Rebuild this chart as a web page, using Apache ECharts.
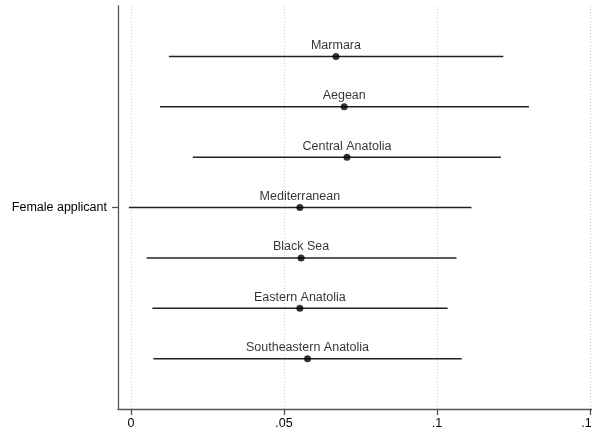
<!DOCTYPE html>
<html>
<head>
<meta charset="utf-8">
<script src="https://cdn.jsdelivr.net/npm/echarts@6/dist/echarts.min.js"></script>
<style>html,body{margin:0;padding:0;background:#fff;}#c{width:592px;height:435px;}</style>
</head>
<body>
<div id="c"></div>
<script>
var regions = ['Marmara','Aegean','Central Anatolia','Mediterranean','Black Sea','Eastern Anatolia','Southeastern Anatolia'];
var estimates = [0.0670,0.0697,0.0706,0.0552,0.0556,0.0552,0.0577];
var lower = [0.0124,0.0095,0.0202,-0.0007,0.0051,0.0070,0.0073];
var upper = [0.1217,0.1301,0.1209,0.1113,0.1064,0.1035,0.1081];
var xTicks = [0, 0.05, 0.1, 0.15];
var yTickValue = [4];
var yTickLabel = 'Female applicant';

var ciData = regions.map(function(r,i){ return [lower[i], upper[i], i+1]; });
var ptData = regions.map(function(r,i){ return {name:r, value:[estimates[i], i+1]}; });

var chart = echarts.init(document.getElementById('c'), null, {renderer:'canvas'});
var fontFam = 'Liberation Sans, Arial, Helvetica, sans-serif';
chart.setOption({
  animation:false,
  backgroundColor:'#fff',
  grid:{left:118, top:6, right:0, bottom:26, containLabel:false, outerBoundsMode:'none'},
  xAxis:{
    type:'value', min:-0.00425, max:0.1507,
    axisLine:{show:true, onZero:false, lineStyle:{color:'#555', width:1.3}},
    axisTick:{show:true, length:6, customValues:xTicks, lineStyle:{color:'#555', width:1.3}},
    axisLabel:{customValues:xTicks, color:'#000', fontSize:12.5, fontFamily:fontFam, margin:8,
      formatter:function(v){ if(v===0) return '0'; return String(v).replace(/^0\./,'.'); }},
    splitLine:{show:true, lineStyle:{color:'#ccc', type:[1,2], width:1}}
  },
  yAxis:{
    type:'value', min:0, max:8, inverse:true,
    axisLine:{show:true, onZero:false, lineStyle:{color:'#555', width:1.3}},
    axisTick:{show:true, length:6, customValues:yTickValue, lineStyle:{color:'#555', width:1.3}},
    axisLabel:{customValues:yTickValue, color:'#000', fontSize:12.5, fontFamily:fontFam, margin:11,
      formatter:function(){ return yTickLabel; }},
    splitLine:{show:false}
  },
  series:[
    {
      type:'custom',
      data:ciData,
      encode:{x:[0,1], y:2},
      renderItem:function(params, api){
        var a = api.coord([api.value(0), api.value(2)]);
        var b = api.coord([api.value(1), api.value(2)]);
        return {type:'line', shape:{x1:a[0], y1:a[1], x2:b[0], y2:b[1]},
          style:{stroke:'#222', lineWidth:1.5}};
      },
      z:2
    },
    {
      type:'scatter',
      data:ptData,
      symbol:'circle', symbolSize:7,
      itemStyle:{color:'#000'},
      label:{show:true, position:'top', distance:1, formatter:'{b}', color:'#000', fontSize:12.5, fontFamily:fontFam},
      z:3
    }
  ]
});
</script>
</body>
</html>
